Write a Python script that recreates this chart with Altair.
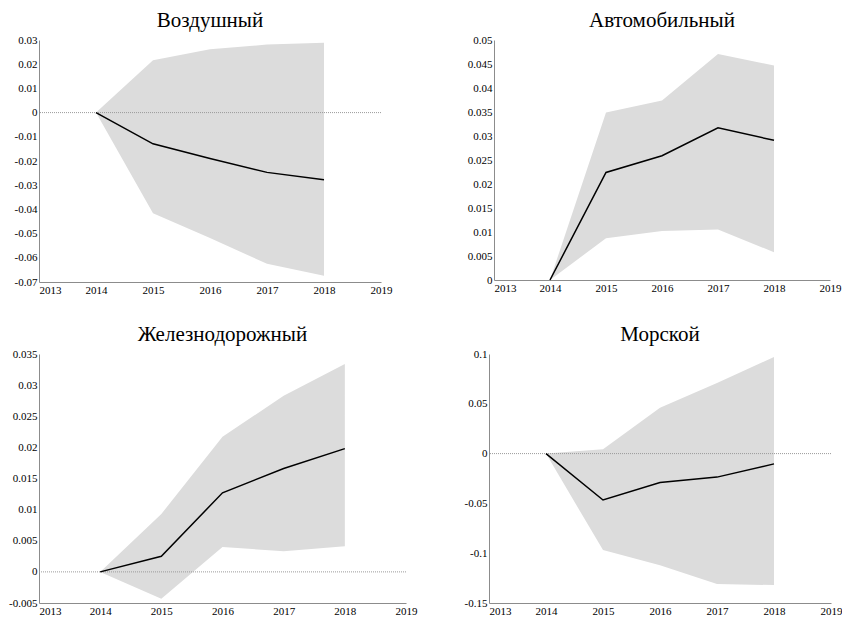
import altair as alt
import pandas as pd

years = [2014, 2015, 2016, 2017, 2018]
x_ticks = [2013, 2014, 2015, 2016, 2017, 2018, 2019]

titles = ["Воздушный", "Автомобильный", "Железнодорожный", "Морской"]

air_mid = [0, -0.0129, -0.0190, -0.0247, -0.0277]
air_lo = [0, -0.0416, -0.0518, -0.0625, -0.0674]
air_hi = [0, 0.0216, 0.0262, 0.0281, 0.0289]
air_ticks = [0.03, 0.02, 0.01, 0, -0.01, -0.02, -0.03, -0.04, -0.05, -0.06, -0.07]

auto_mid = [0, 0.0224, 0.0259, 0.0317, 0.0291]
auto_lo = [0, 0.0087, 0.0102, 0.0105, 0.0058]
auto_hi = [0, 0.0349, 0.0374, 0.0471, 0.0447]
auto_ticks = [0, 0.005, 0.01, 0.015, 0.02, 0.025, 0.03, 0.035, 0.04, 0.045, 0.05]

rail_mid = [0, 0.0025, 0.0127, 0.0166, 0.0198]
rail_lo = [0, -0.0043, 0.0040, 0.0033, 0.0041]
rail_hi = [0, 0.0093, 0.0217, 0.0283, 0.0334]
rail_ticks = [-0.005, 0, 0.005, 0.01, 0.015, 0.02, 0.025, 0.03, 0.035]

sea_mid = [0, -0.0466, -0.0290, -0.0236, -0.0103]
sea_lo = [0, -0.0969, -0.1120, -0.1310, -0.1320]
sea_hi = [0, 0.0043, 0.0460, 0.0710, 0.0970]
sea_ticks = [-0.15, -0.1, -0.05, 0, 0.05, 0.1]

SERIF = "Liberation Serif"
LABEL_EXPR = "datum.value < 0 ? '-' + format(-datum.value, '') : format(datum.value, '')"
AXIS_STYLE = dict(labelFont=SERIF, labelFontSize=11, labelColor="black",
                  domainColor="#8c8c8c", domainWidth=1, ticks=False, grid=False,
                  labelPadding=2, title=None)


def panel(title, mid, lo, hi, ticks, w, h, extent, zero_line=True):
    df = pd.DataFrame({"year": years, "mid": mid, "lo": lo, "hi": hi})
    xaxis = alt.Axis(
        values=x_ticks, format="d", labelFlush=False,
        labelAlign={"condition": {"test": "datum.value == 2013", "value": "left"},
                    "value": "center"},
        **AXIS_STYLE,
    )
    xscale = alt.Scale(domain=[x_ticks[0], x_ticks[-1]], nice=False, zero=False)
    yaxis = alt.Axis(values=ticks, labelExpr=LABEL_EXPR, labelOverlap=False,
                     minExtent=extent, maxExtent=extent, **AXIS_STYLE)
    yscale = alt.Scale(domain=[min(ticks), max(ticks)], nice=False, zero=False)
    x = alt.X("year:Q", scale=xscale, axis=xaxis)
    band = alt.Chart(df).mark_area(color="#dcdcdc", opacity=1).encode(
        x=x,
        y=alt.Y("lo:Q", scale=yscale, axis=yaxis),
        y2="hi:Q",
    )
    line = alt.Chart(df).mark_line(color="black", strokeWidth=1.5).encode(
        x=x, y=alt.Y("mid:Q", scale=yscale, axis=yaxis)
    )
    layers = [band]
    if zero_line:
        rule = alt.Chart(pd.DataFrame({"z": [0]})).mark_rule(
            color="#9a9a9a", strokeWidth=1, strokeDash=[1, 1]
        ).encode(y=alt.Y("z:Q", scale=yscale, axis=yaxis))
        layers.append(rule)
    layers.append(line)
    return alt.layer(*layers).properties(
        width=w, height=h,
        title=alt.TitleParams(title, font=SERIF, fontSize=21, fontWeight="normal",
                              color="black", offset=3),
    )


p1 = panel(titles[0], air_mid, air_lo, air_hi, air_ticks, 342, 242, 31)
p2 = panel(titles[1], auto_mid, auto_lo, auto_hi, auto_ticks, 336, 240, 28, zero_line=False)
p3 = panel(titles[2], rail_mid, rail_lo, rail_hi, rail_ticks, 367, 249, 31)
p4 = panel(titles[3], sea_mid, sea_lo, sea_hi, sea_ticks, 342, 249, 26)

top = alt.hconcat(p1, p2, spacing=74)
bottom = alt.hconcat(p3, p4, spacing=46)

chart = alt.vconcat(top, bottom, spacing=29).properties(
    padding={"left": 0, "top": 2, "right": 0, "bottom": 0}
).configure_view(stroke=None)

chart.save("out.html", embed_options={"renderer": "svg", "actions": False})
